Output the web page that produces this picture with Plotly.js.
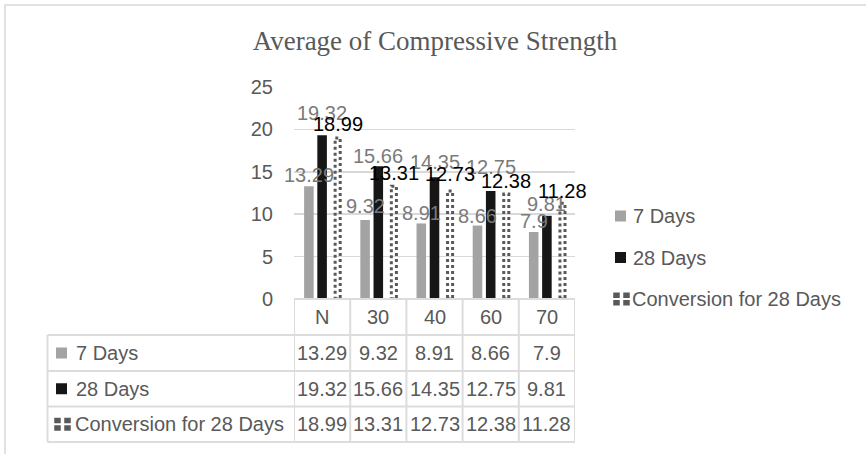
<!DOCTYPE html>
<html>
<head>
<meta charset="utf-8">
<script src="https://cdn.plot.ly/plotly-3.0.1.min.js"></script>
<style>
  html, body { margin: 0; padding: 0; background: #ffffff; }
  #chart { width: 866px; height: 454px; }
</style>
</head>
<body>
<div id="chart"></div>
<script>
// Mixes and their compressive strength (MPa)
const categories = ['N', '30', '40', '60', '70'];
const days7 = [13.29, 9.32, 8.91, 8.66, 7.9];
const days28 = [19.32, 15.66, 14.35, 12.75, 9.81];
const conversion28 = [18.99, 13.31, 12.73, 12.38, 11.28];
const seriesNames = ['7 Days', '28 Days', 'Conversion for 28 Days'];
const yTicks = [0, 5, 10, 15, 20, 25];

// Gap (px) between each bar top and the baseline of its value label
const labelGap7 = [5, 7, 3.7, 3.4, 5];
const labelGap28 = [15.5, 4, 8.6, 17, 5.4];
const labelGapConv = [7, 6.4, 10.7, 7, 5.6];

// Page geometry
const W = 866, H = 454;
const M = { l: 294, r: 291, t: 87, b: 155 };
const PW = W - M.l - M.r;
const PH = H - M.t - M.b;
const px = v => (v - M.l) / PW;          // pixel x -> paper x
const py = v => (H - M.b - v) / PH;      // pixel y -> paper y

const SANS = 'Liberation Sans, Arial, sans-serif';
const TEXT_GREY = '#595959';
const LABEL_GREY = '#7a7a7a';
const GRID = '#d9d9d9';
const C7 = '#a3a3a3';
const C28 = '#161616';
const CCONV = '#595959';

// Bar placement inside each category slot
const barW = 0.17;
const ctr7 = -0.235, ctr28 = 0, ctrConv = 0.277;
const convW = 0.09;

const traces = [
  {
    type: 'bar', name: seriesNames[0], x: categories, y: days7,
    width: barW, offset: ctr7 - barW / 2,
    marker: { color: C7, line: { width: 0 } }, hoverinfo: 'x+y+name'
  },
  {
    type: 'bar', name: seriesNames[1], x: categories, y: days28,
    width: barW, offset: ctr28 - barW / 2,
    marker: { color: C28, line: { width: 0 } }, hoverinfo: 'x+y+name'
  },
  {
    type: 'bar', name: seriesNames[2], x: categories, y: conversion28,
    width: convW, offset: ctrConv - convW / 2,
    marker: { color: 'rgba(255,255,255,0)', line: { width: 0 } }, hoverinfo: 'x+y+name'
  }
];

const shapes = [];
const annotations = [];

// Dotted outline of the conversion bars
conversion28.forEach((v, i) => {
  shapes.push({
    type: 'rect', xref: 'x', yref: 'y',
    x0: i + ctrConv - convW / 2, x1: i + ctrConv + convW / 2, y0: 0, y1: v,
    line: { color: CCONV, width: 3, dash: 'dot' },
    fillcolor: 'rgba(0,0,0,0)', layer: 'above'
  });
});

// Value labels above the bars
const DESCENT = 6.5;
function addValueLabels(vals, ctr, gaps, color) {
  vals.forEach((v, i) => {
    annotations.push({
      xref: 'x', yref: 'y', x: i + ctr, y: v, text: String(v),
      showarrow: false, xanchor: 'center', yanchor: 'bottom',
      yshift: gaps[i] - DESCENT,
      font: { family: SANS, size: 20, color: color }
    });
  });
}
addValueLabels(days7, ctr7, labelGap7, LABEL_GREY);
addValueLabels(days28, ctr28, labelGap28, LABEL_GREY);
addValueLabels(conversion28, ctrConv, labelGapConv, '#000000');

// Outer chart frame
shapes.push({
  type: 'rect', xref: 'paper', yref: 'paper',
  x0: px(5), x1: px(900), y0: py(5), y1: py(500),
  line: { color: '#d9d9d9', width: 1.5 }, fillcolor: 'rgba(0,0,0,0)', layer: 'below'
});

// Data table grid
const rowLines = [299, 335, 371, 406.5, 442];
const tableLeft = 47.5;
const TL = { color: '#dcdcdc', width: 2 };
shapes.push({ type: 'line', xref: 'x', yref: 'paper', x0: -0.5, x1: categories.length - 0.5,
  y0: py(rowLines[0]), y1: py(rowLines[0]), line: TL });
for (let r = 1; r < rowLines.length; r++) {
  shapes.push({ type: 'line', xref: 'paper', yref: 'paper', x0: px(tableLeft), x1: 1,
    y0: py(rowLines[r]), y1: py(rowLines[r]), line: TL });
}
for (let c = 0; c <= categories.length; c++) {
  shapes.push({ type: 'line', xref: 'x', yref: 'paper', x0: c - 0.5, x1: c - 0.5,
    y0: py(rowLines[0]), y1: py(rowLines[rowLines.length - 1]), line: TL });
}
shapes.push({ type: 'line', xref: 'paper', yref: 'paper', x0: px(tableLeft), x1: px(tableLeft),
  y0: py(rowLines[1]), y1: py(rowLines[rowLines.length - 1]), line: TL });

const cellFont = { family: SANS, size: 20, color: TEXT_GREY };

// Header row: category names
categories.forEach((c, i) => {
  annotations.push({ xref: 'x', yref: 'paper', x: i, y: py((rowLines[0] + rowLines[1]) / 2),
    text: c, showarrow: false, font: cellFont, xanchor: 'center', yanchor: 'middle' });
});

// Legend keys (squares or the dotted conversion key)
function addKey(kind, color, cx, cy) {
  if (kind === 'square') {
    shapes.push({ type: 'rect', xref: 'paper', yref: 'paper',
      x0: px(cx - 5.5), x1: px(cx + 5.5), y0: py(cy - 5.5), y1: py(cy + 5.5),
      line: { width: 0 }, fillcolor: color });
  } else {
    const bw = 6.5, bh = 5.5, gx = 3.5, gy = 2;
    [[-1, -1], [1, -1], [-1, 1], [1, 1]].forEach(([sx, sy]) => {
      const x0 = sx < 0 ? cx - gx / 2 - bw : cx + gx / 2;
      const y0 = sy < 0 ? cy - gy / 2 - bh : cy + gy / 2;
      shapes.push({ type: 'rect', xref: 'paper', yref: 'paper',
        x0: px(x0), x1: px(x0 + bw), y0: py(y0), y1: py(y0 + bh),
        line: { width: 0 }, fillcolor: color });
    });
  }
}

const seriesValues = [days7, days28, conversion28];
const seriesColors = [C7, C28, CCONV];
const seriesKinds = ['square', 'square', 'dots'];

// Table body rows
seriesValues.forEach((vals, r) => {
  const cy = (rowLines[r + 1] + rowLines[r + 2]) / 2;
  addKey(seriesKinds[r], seriesColors[r], seriesKinds[r] === 'square' ? 61.5 : 62.5, cy);
  annotations.push({ xref: 'paper', yref: 'paper', x: px(seriesKinds[r] === 'square' ? 74 : 72.5), y: py(cy),
    text: seriesNames[r], showarrow: false, font: cellFont, xanchor: 'left', yanchor: 'middle' });
  vals.forEach((v, i) => {
    annotations.push({ xref: 'x', yref: 'paper', x: i, y: py(cy),
      text: String(v), showarrow: false, font: cellFont, xanchor: 'center', yanchor: 'middle' });
  });
});

// Legend at right
const legendRows = [216, 257.5, 299];
seriesNames.forEach((name, r) => {
  addKey(seriesKinds[r], seriesColors[r], seriesKinds[r] === 'square' ? 620.5 : 621.5, legendRows[r]);
  annotations.push({ xref: 'paper', yref: 'paper', x: px(seriesKinds[r] === 'square' ? 631 : 630), y: py(legendRows[r]),
    text: name, showarrow: false, font: cellFont, xanchor: 'left', yanchor: 'middle' });
});

const layout = {
  width: W, height: H,
  margin: M,
  paper_bgcolor: '#ffffff', plot_bgcolor: '#ffffff',
  showlegend: false,
  barmode: 'overlay',
  title: {
    text: 'Average of Compressive Strength',
    font: { family: 'Liberation Serif, Times New Roman, serif', size: 27, color: TEXT_GREY },
    xref: 'paper', x: px(435), xanchor: 'center',
    yref: 'container', y: 1 - 41 / H, yanchor: 'middle'
  },
  xaxis: {
    type: 'category', range: [-0.5, categories.length - 0.5],
    showticklabels: false, showgrid: false, zeroline: false, showline: false, ticks: ''
  },
  yaxis: {
    range: [0, 25], tickvals: yTicks, ticktext: yTicks.map(String),
    showgrid: true, gridcolor: GRID, gridwidth: 1.5,
    zeroline: false, showline: false, ticks: '', ticklabelstandoff: 20,
    tickfont: { family: SANS, size: 20, color: TEXT_GREY }
  },
  shapes: shapes,
  annotations: annotations
};

Plotly.newPlot('chart', traces, layout, { displayModeBar: false, staticPlot: true });
</script>
</body>
</html>
